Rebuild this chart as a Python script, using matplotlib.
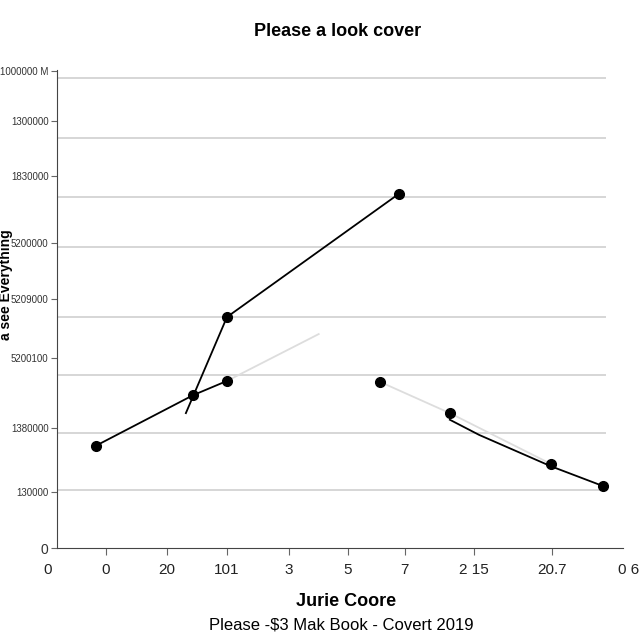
import numpy as np
import matplotlib.pyplot as plt

plt.rcParams['font.family'] = ['Liberation Sans', 'DejaVu Sans']

# tick positions / labels
x_ticks = [-0.16, 0.87, 1.95, 3.02, 4.12, 5.17, 6.18, 7.41, 8.79, 10.15]
x_labels = ['0', '0', '20', '101', '3', '5', '7', '2 15', '20.7', '0 6']
y_ticks = [10.08, 9.03, 7.86, 6.45, 5.26, 4.02, 2.54, 1.18, 0.0]
y_labels = ['1000000 M', '1300000', '1830000', '5200000', '5209000',
            '5200100', '1380000', '130000', '0']
grid_y = [9.94, 8.67, 7.42, 6.36, 4.88, 3.66, 2.43, 1.23]

# series
a_x = [0.69, 2.42, 3.02]
a_y = [2.16, 3.23, 3.53]
a_gray_x = [3.02, 4.65]
a_gray_y = [3.53, 4.52]
b_x = [2.29, 3.02, 6.07]
b_y = [2.85, 4.88, 7.48]
c_gray_x = [5.74, 6.98, 8.77]
c_gray_y = [3.51, 2.85, 1.78]
c_x = [6.98, 7.50, 8.77, 9.70]
c_y = [2.71, 2.39, 1.73, 1.31]
c_mark_x = [5.74, 6.98, 8.77, 9.70]
c_mark_y = [3.51, 2.85, 1.78, 1.31]

fig = plt.figure(figsize=(6.4, 6.4), dpi=100)
ax = fig.add_axes([40 / 640, 92 / 640, 595 / 640, 478 / 640])
ax.set_xlim(-0.302, 10.27)
ax.set_ylim(0, 10.1)

ax.hlines(grid_y, 0, 9.75, color='#cccccc', lw=1.1, zorder=1)

ax.plot(a_gray_x, a_gray_y, color='#dddddd', lw=1.3, zorder=2)
ax.plot(c_gray_x, c_gray_y, color='#dddddd', lw=1.3, zorder=2)
ax.plot(a_x, a_y, color='black', lw=1.3, marker='o', ms=7, zorder=3)
ax.plot(b_x, b_y, color='black', lw=1.3, zorder=3)
ax.plot(b_x[1:], b_y[1:], 'o', color='black', ms=7, zorder=4)
ax.plot(c_x, c_y, color='black', lw=1.3, zorder=3)
ax.plot(c_mark_x, c_mark_y, 'o', color='black', ms=7, zorder=4)

for s in ['top', 'right']:
    ax.spines[s].set_visible(False)
ax.spines['left'].set_position(('data', 0))
ax.spines['left'].set_bounds(0, 10.1)
ax.spines['bottom'].set_bounds(0, 10.05)
ax.spines['left'].set_color('#444444')
ax.spines['bottom'].set_color('#444444')

ax.set_xticks(x_ticks)
ax.set_xticklabels(x_labels, fontsize=11, color='#222222')
ax.set_yticks(y_ticks)
ax.set_yticklabels(y_labels, fontsize=7, color='#333333')
ax.get_yticklabels()[-1].set_fontsize(10)
ax.tick_params(axis='x', length=5, color='#666666', pad=6)
ax.tick_params(axis='y', length=4, color='#666666', pad=2)
xt = ax.xaxis.get_major_ticks()
xt[0].tick1line.set_visible(False)
xt[-1].tick1line.set_visible(False)

ax.set_xlabel('Jurie Coore', fontsize=13, fontweight='bold', labelpad=4)
ax.xaxis.set_label_coords(0.515, -0.095)
fig.text(0.009, 0.555, 'a see Everything', rotation=90, fontsize=10,
         fontweight='bold', ha='center', va='center')
fig.text(0.527, 0.95, 'Please a look cover', fontsize=13, fontweight='bold',
         ha='center', va='center')
fig.text(0.534, 0.023, 'Please -$3 Mak Book - Covert 2019', fontsize=12,
         ha='center', va='center')

fig.savefig('out.png', dpi=100)
